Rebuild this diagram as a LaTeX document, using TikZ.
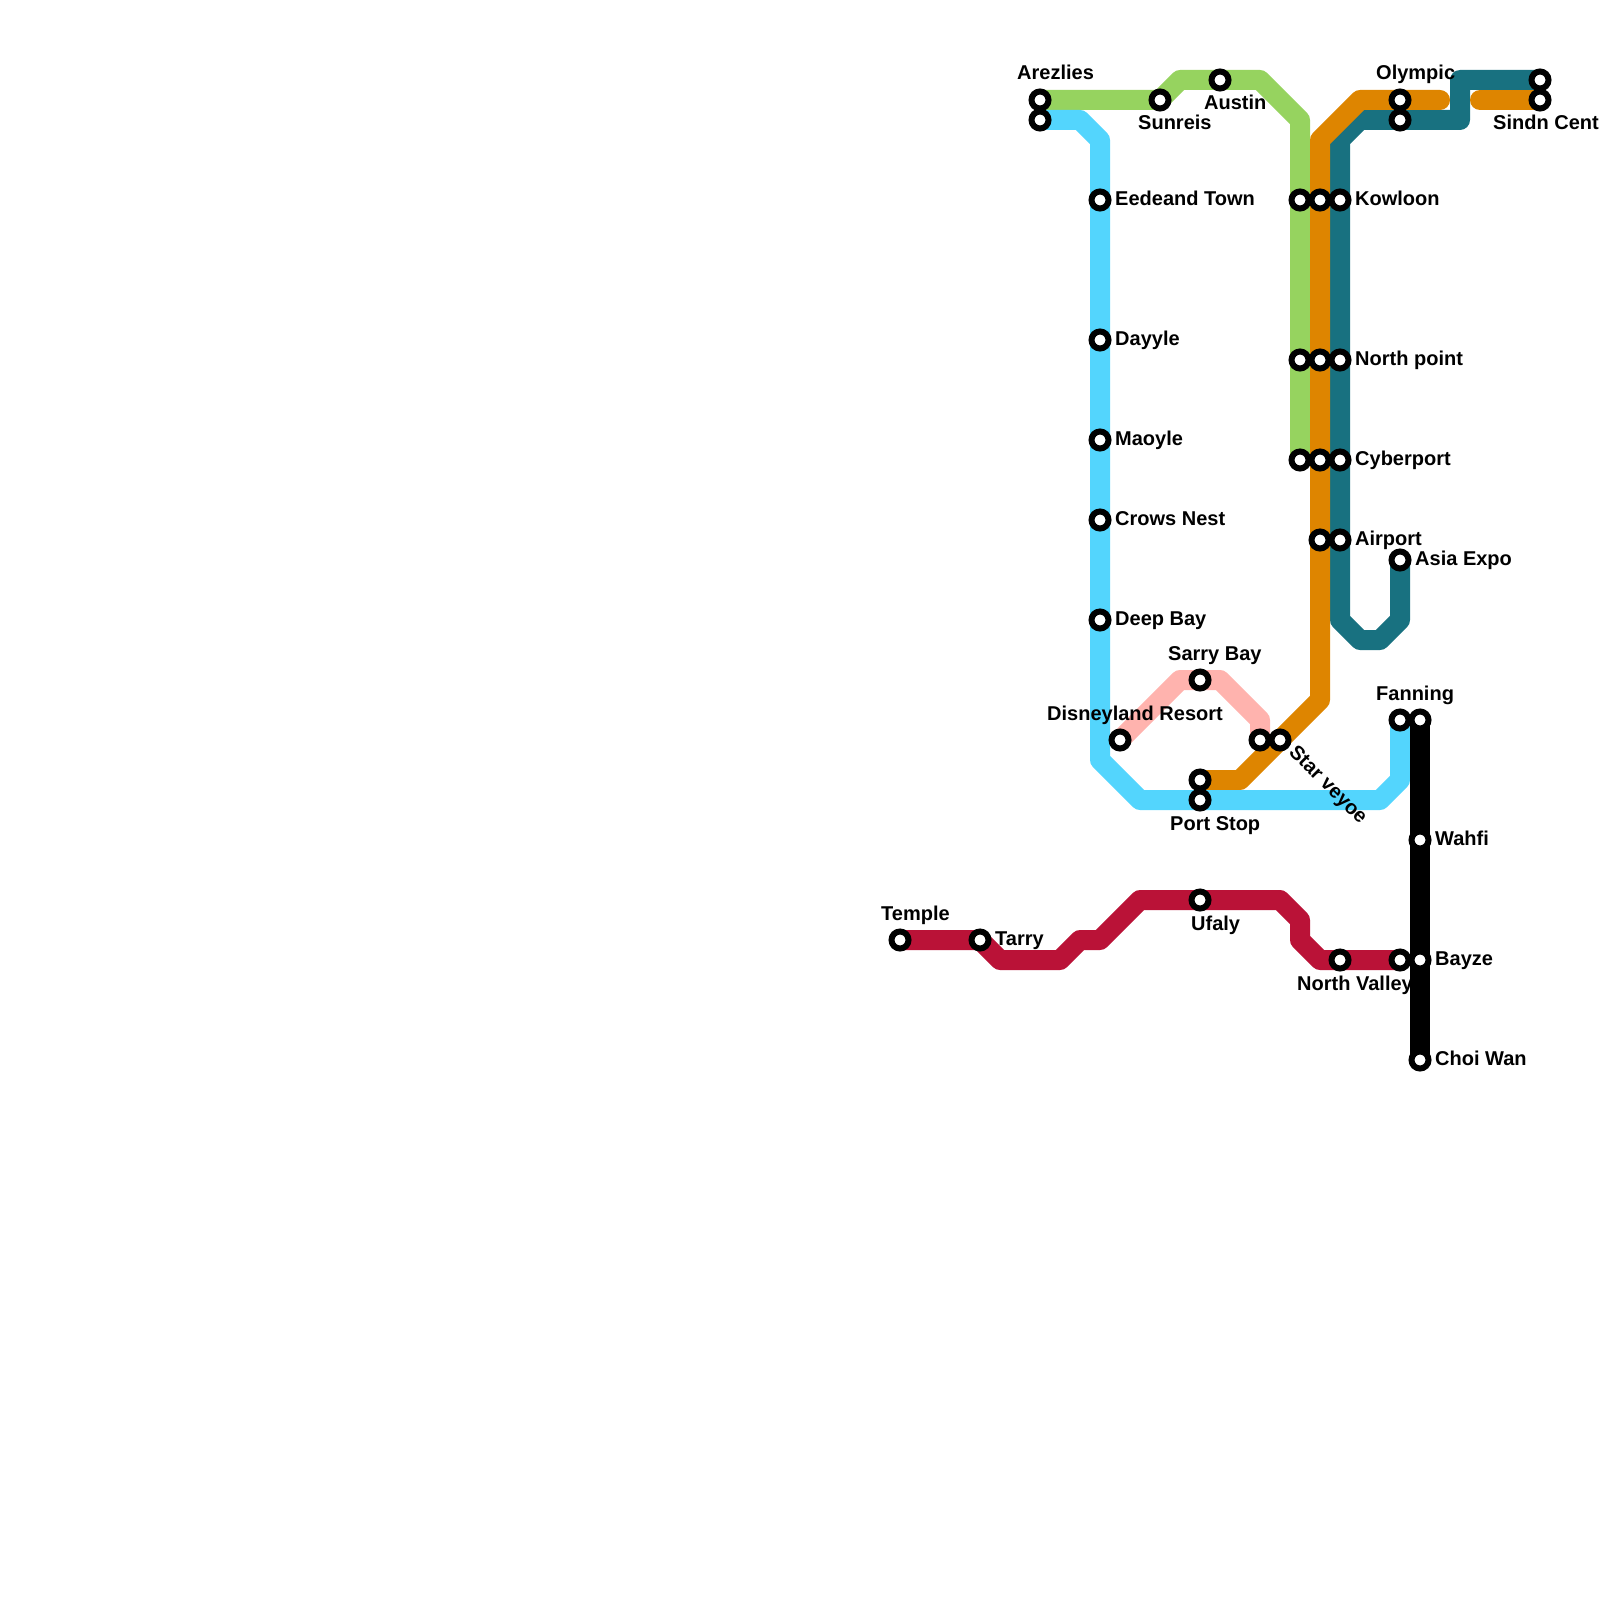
\documentclass[tikz,border=0pt]{standalone}
\usepackage{fontspec}
\setmainfont{Liberation Sans}
\definecolor{greenline}{HTML}{96D35F}
\definecolor{skyline}{HTML}{53D5FD}
\definecolor{orangeline}{HTML}{DE8500}
\definecolor{tealline}{HTML}{187180}
\definecolor{redline}{HTML}{BA1237}
\definecolor{pinkline}{HTML}{FFB3AE}
\tikzset{
  metro/.style={line width=20pt,line cap=round,line join=round},
  station/.style={circle,draw=black,fill=white,line width=6pt,inner sep=0,minimum size=17pt},
  stationname/.style={anchor=base west,inner sep=0,font=\bfseries\fontsize{20}{22}\selectfont}
}

\begin{document}
\begin{tikzpicture}[x=1pt,y=-1pt]
  \path[use as bounding box] (0,0) rectangle (1600,1600);
  \clip (0,0) rectangle (1600,1600);
  \def\stoplist{arezlies/1040/100,arezliessky/1040/120,sunreis/1160/100,austin/1220/80,
    kowloongreen/1300/200,northgreen/1300/360,cybergreen/1300/460,
    kowloonorange/1320/200,northorange/1320/360,cyberorange/1320/460,airportorange/1320/540,
    kowloon/1340/200,northpoint/1340/360,cyberport/1340/460,airport/1340/540,
    olympic/1400/100,olympicteal/1400/120,sindnteal/1540/80,sindn/1540/100,
    eedeand/1100/200,dayyle/1100/340,maoyle/1100/440,crows/1100/520,deepbay/1100/620,
    asiaexpo/1400/560,sarry/1200/680,disneyland/1120/740,starpink/1260/740,star/1280/740,
    portorange/1200/780,port/1200/800,fanning/1400/720,fanningblack/1420/720,
    wahfi/1420/840,bayze/1420/960,choiwan/1420/1060,
    temple/900/940,tarry/980/940,ufaly/1200/900,northvalley/1340/960,bayzered/1400/960}
  \foreach \name/\x/\y in \stoplist
    \coordinate (\name) at (\x,\y);
  % lines
  \draw[metro,pinkline] (disneyland) -- (1180,680) -- (sarry) -- (1220,680) -- (1260,720) -- (starpink);
  \draw[metro,greenline] (arezlies) -- (sunreis) -- (1180,80) -- (austin) -- (1260,80)
    -- (1300,120) -- (kowloongreen) -- (northgreen) -- (cybergreen);
  \draw[metro,tealline] (asiaexpo) -- (1400,620) -- (1380,640) -- (1360,640) -- (1340,620)
    -- (airport) -- (cyberport) -- (northpoint) -- (kowloon) -- (1340,140) -- (1360,120)
    -- (olympicteal) -- (1460,120) -- (1460,80) -- (sindnteal);
  \draw[metro,orangeline] (portorange) -- (1240,780) -- (star) -- (1320,700) -- (airportorange)
    -- (cyberorange) -- (northorange) -- (kowloonorange) -- (1320,140) -- (1360,100)
    -- (olympic) -- (1440,100);
  \draw[metro,orangeline] (1480,100) -- (sindn);
  \draw[metro,redline] (temple) -- (tarry) -- (1000,960) -- (1060,960) -- (1080,940) -- (1100,940)
    -- (1140,900) -- (ufaly) -- (1280,900) -- (1300,920) -- (1300,940) -- (1320,960)
    -- (northvalley) -- (bayzered);
  \draw[metro,skyline] (arezliessky) -- (1080,120) -- (1100,140) -- (eedeand) -- (deepbay)
    -- (1100,760) -- (1140,800) -- (port) -- (1380,800) -- (1400,780) -- (fanning);
  \draw[metro,black] (fanningblack) -- (wahfi) -- (bayze) -- (choiwan);
  % stations
  \foreach \name/\x/\y in \stoplist
    \node[station] (\name-stop) at (\name) {};
  % names
  \foreach \name/\x/\y/\txt in {
    arezlies/1017/80/Arezlies,sunreis/1138/130/Sunreis,austin/1204/110/Austin,
    olympic/1376/80/Olympic,sindn/1493/130/Sindn Central,
    eedeand/1115/205/Eedeand Town,dayyle/1115/345/Dayyle,maoyle/1115/445/Maoyle,
    crows/1115/525/Crows Nest,deepbay/1115/625/Deep Bay,
    kowloon/1355/205/Kowloon,northpoint/1355/365/North point,cyberport/1355/465/Cyberport,
    airport/1355/545/Airport,asiaexpo/1415/565/Asia Expo,
    sarry/1168/660/Sarry Bay,disneyland/1047/720/Disneyland Resort,port/1170/830/Port Stop,
    fanning/1376/700/Fanning,wahfi/1435/845/Wahfi,bayze/1435/965/Bayze,choiwan/1435/1065/Choi Wan,
    temple/881/920/Temple,tarry/995/945/Tarry,ufaly/1191/930/Ufaly,northvalley/1297/990/North Valley}
    \node[stationname] (\name-name) at (\x,\y) {\txt};
  \node[stationname,rotate=-45] (star-name) at (1288,753) {Star veyoe};
\end{tikzpicture}
\end{document}
